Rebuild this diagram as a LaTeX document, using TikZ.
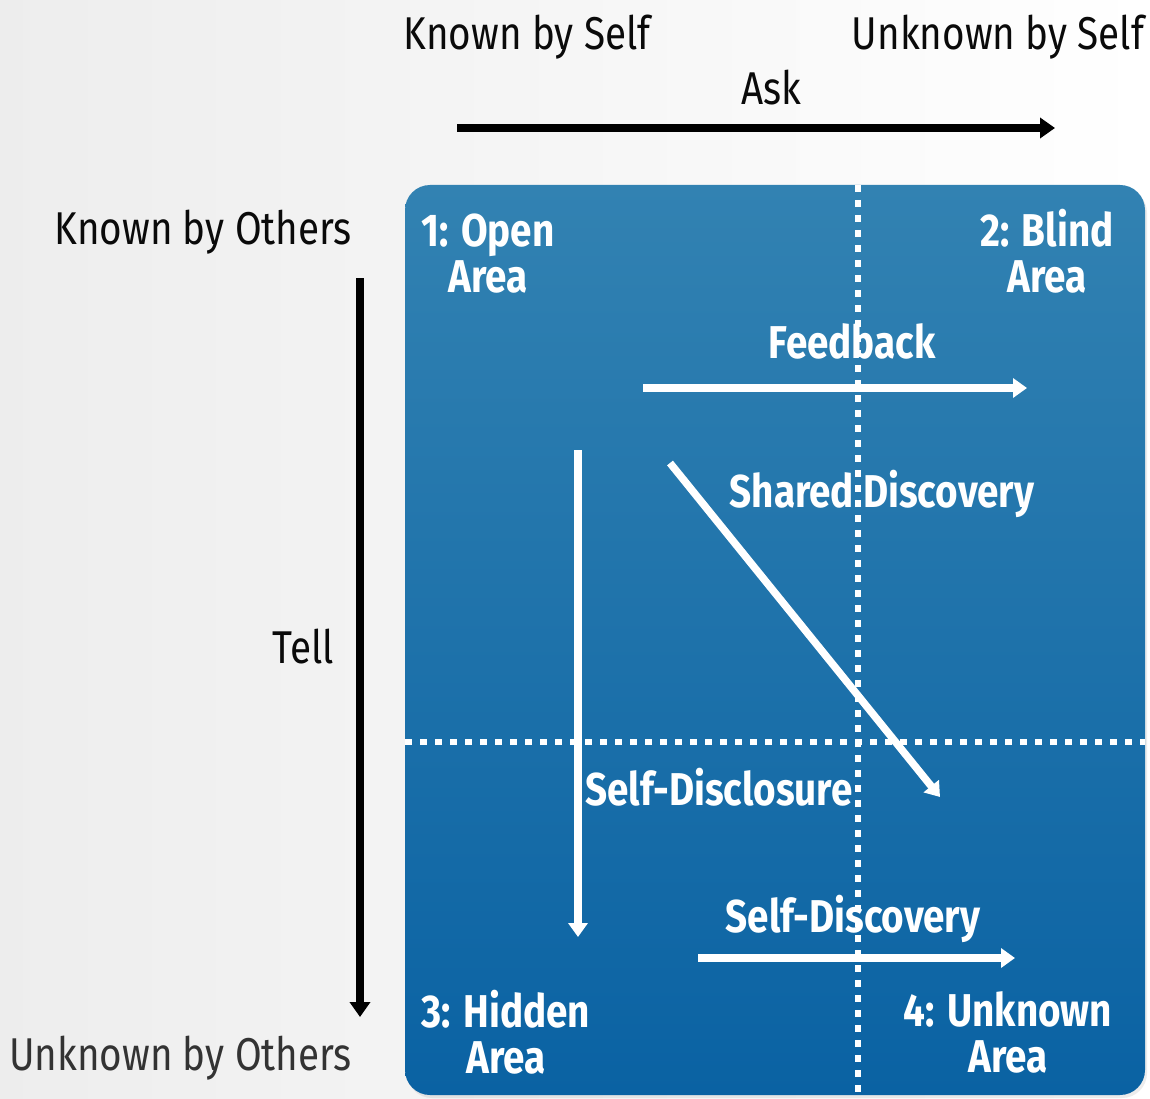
\documentclass[tikz,border=0pt]{standalone}
\usepackage{fontspec}
\setmainfont{Fira Sans}[FakeStretch=0.84]
\usetikzlibrary{
arrows.meta,
positioning,
shadows
}
\definecolor{boxtop}{RGB}{50,130,178}
\definecolor{boxbottom}{RGB}{10,98,163}
\definecolor{txtdark}{RGB}{10,10,10}

\tikzset{
outerlabel/.style={text=txtdark, font=\fontsize{46}{46}\selectfont, inner sep=0pt, anchor=base},
innerlabel/.style={text=white, font=\fontsize{46}{46}\selectfont\bfseries, inner sep=0pt, align=center},
blackarrow/.style={draw=black, line width=8pt, -{Triangle[length=15pt,width=20pt]}},
whitearrow/.style={draw=white, line width=7.5pt, -{Triangle[length=14pt,width=19pt]}},
dotline/.style={draw=white, line width=6pt, dash pattern=on 7pt off 8pt}
}

\begin{document}
\begin{tikzpicture}[x=1pt,y=-1pt]
\useasboundingbox (0,0) rectangle (1150,1099);
\fill[left color=black!7, right color=white] (0,0) rectangle (1150,1099);

% fenster
\shade[top color=boxtop, bottom color=boxbottom, rounded corners=25pt,
  drop shadow={opacity=0.15, shadow xshift=2pt, shadow yshift=-3pt}]
  (405,185) rectangle (1145,1095);
\draw[dotline] (858,185) -- (858,1095);
\draw[dotline] (405,742) -- (1145,742);

% achsen aussen
\node[outerlabel] (knownself) at (527,50) {Known by Self};
\node[outerlabel] (unknownself) at (998,50) {Unknown by Self};
\node[outerlabel] (ask) at (771,105) {Ask};
\node[outerlabel, anchor=base east] (knownothers) at (352,244) {Known by Others};
\node[outerlabel, anchor=base east] (tell) at (334,663) {Tell};
\node[outerlabel, anchor=base east, text=black!80] (unknownothers) at (352,1070) {Unknown by Others};

\coordinate (askstart) at (457,128);
\coordinate (askend) at (1055,128);
\coordinate (tellstart) at (360,278);
\coordinate (tellend) at (360,1017);
\draw[blackarrow] (askstart) -- (askend);
\draw[blackarrow] (tellstart) -- (tellend);

% quadranten
\node[innerlabel] (open) at (488,254) {1: Open\\Area};
\node[innerlabel] (blind) at (1047,251) {2: Blind\\Area};
\node[innerlabel] (hidden) at (506,1032) {3: Hidden\\Area};
\node[innerlabel] (unknown) at (1008,1032) {4: Unknown\\Area};

% pfeile innen
\node[innerlabel, anchor=base] (feedback) at (852,358) {Feedback};
\node[innerlabel, anchor=base] (shared) at (882,507) {Shared Discovery};
\node[innerlabel, anchor=base] (disclosure) at (719,805) {Self-Disclosure};
\node[innerlabel, anchor=base] (discovery) at (853,932) {Self-Discovery};

\coordinate (fbstart) at (643,388);
\coordinate (fbend) at (1027,388);
\coordinate (sdstart) at (670,463);
\coordinate (sdend) at (940,797);
\coordinate (disstart) at (578,450);
\coordinate (disend) at (578,937);
\coordinate (disc2start) at (698,958);
\coordinate (disc2end) at (1015,958);
\draw[whitearrow] (fbstart) -- (fbend);
\draw[whitearrow] (sdstart) -- (sdend);
\draw[whitearrow] (disstart) -- (disend);
\draw[whitearrow] (disc2start) -- (disc2end);
\end{tikzpicture}
\end{document}
